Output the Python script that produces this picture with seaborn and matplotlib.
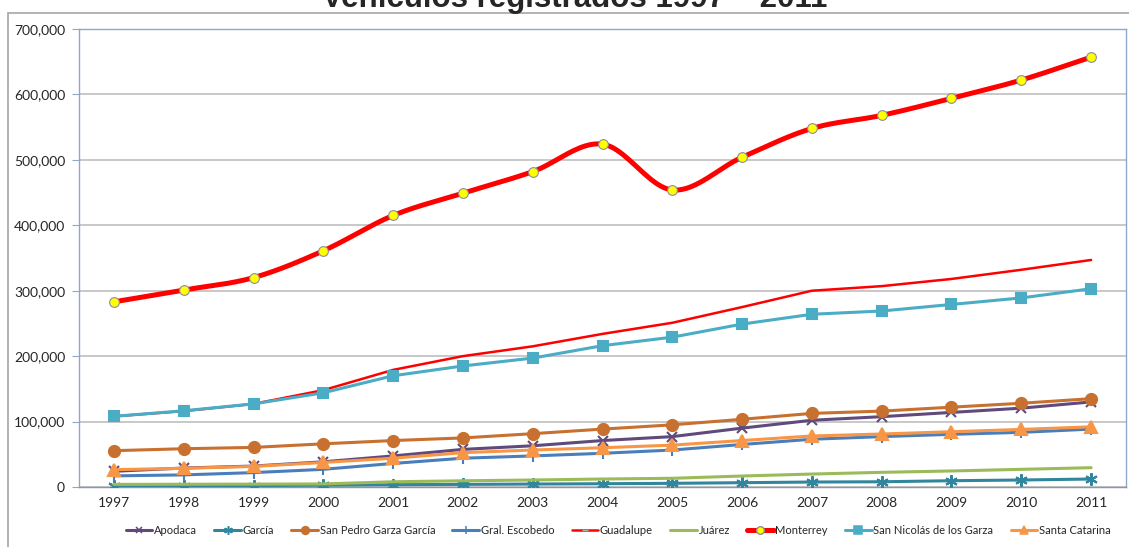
import numpy as np
import pandas as pd
import seaborn as sns
import matplotlib.pyplot as plt
from matplotlib.lines import Line2D
from matplotlib.patches import Rectangle
from matplotlib.ticker import FuncFormatter, MultipleLocator

years = ['1997', '1998', '1999', '2000', '2001', '2002', '2003', '2004',
         '2005', '2006', '2007', '2008', '2009', '2010', '2011']

apodaca = [24000, 29000, 32000, 38500, 47500, 57500, 63000, 71000, 77000,
           90000, 102000, 107500, 114000, 120500, 130000]
garcia = [1500, 1800, 2200, 2800, 3500, 4000, 4500, 5000, 5600, 6600, 7600,
          8000, 9600, 10700, 12200]
san_pedro = [55500, 58500, 60500, 66000, 71000, 75000, 81500, 88500, 95000,
             103500, 112500, 116000, 122000, 128000, 135000]
escobedo = [17000, 18500, 22000, 27000, 36000, 44000, 47500, 51500, 56500,
            65000, 73000, 77000, 80500, 83500, 88500]
guadalupe = [108000, 116000, 127000, 148000, 179000, 200000, 215000, 234000,
             251000, 275000, 300000, 307000, 318000, 332000, 347000]
juarez = [4000, 4200, 4400, 4700, 8000, 9500, 10700, 12200, 13300, 16800,
          19800, 22400, 24500, 27000, 29500]
monterrey = [283000, 301000, 320000, 361000, 415000, 449000, 482000, 524000,
             454000, 504000, 548000, 568000, 594000, 622000, 657000]
san_nicolas = [108000, 116500, 127000, 144000, 170000, 185000, 197000, 216000,
               229000, 249000, 264000, 269000, 279000, 289000, 303000]
santa_catarina = [26500, 28500, 31500, 37500, 44000, 52500, 56500, 60000,
                  64000, 71000, 78000, 81000, 84500, 88000, 92000]

sns.set_style('white')
plt.rcParams['font.family'] = ['Lato', 'DejaVu Sans']

fig = plt.figure(figsize=(11.29, 5.47), dpi=100)
ax = fig.add_axes([79 / 1129, 1 - 487 / 547, (1126 - 79) / 1129, (487 - 29) / 547])

xs = np.arange(len(years))
GRID = '#BFBFBF'
FRAME = '#8EA9C8'


def smooth(x, y, n=24):
    # catmull-rom style smoothing, like excel's "smoothed line"
    x = np.asarray(x, float)
    y = np.asarray(y, float)
    px = np.concatenate([[2 * x[0] - x[1]], x, [2 * x[-1] - x[-2]]])
    py = np.concatenate([[2 * y[0] - y[1]], y, [2 * y[-1] - y[-2]]])
    ox, oy = [], []
    t = np.linspace(0, 1, n, endpoint=False)
    for i in range(1, len(px) - 2):
        for arr, out in ((px, ox), (py, oy)):
            p0, p1, p2, p3 = arr[i - 1], arr[i], arr[i + 1], arr[i + 2]
            out.extend(0.5 * ((2 * p1) + (-p0 + p2) * t
                              + (2 * p0 - 5 * p1 + 4 * p2 - p3) * t ** 2
                              + (-p0 + 3 * p1 - 3 * p2 + p3) * t ** 3))
    ox.append(x[-1])
    oy.append(y[-1])
    return np.array(ox), np.array(oy)


series = [
    # name, values, color, marker, marker size, line width
    ('Apodaca', apodaca, '#604A7B', 'x', 7, 2.2),
    ('García', garcia, '#31859C', (6, 2, 0), 9, 2.2),
    ('San Pedro Garza García', san_pedro, '#C8702F', 'o', 8, 2.2),
    ('Gral. Escobedo', escobedo, '#4A7EBB', '|', 8, 2.2),
    ('Guadalupe', guadalupe, '#FF0000', None, 0, 1.8),
    ('Juárez', juarez, '#9BBB59', None, 0, 2.2),
    ('Monterrey', monterrey, '#FF0000', 'o', 7, 3.6),
    ('San Nicolás de los Garza', san_nicolas, '#4BACC6', 's', 7.5, 2.2),
    ('Santa Catarina', santa_catarina, '#F79646', '^', 8, 2.2),
]

handles = []
for z, (name, vals, col, mk, ms, lw) in enumerate(series):
    if name == 'Monterrey':
        sx, sy = smooth(xs, vals)
        sns.lineplot(x=sx, y=sy, ax=ax, color=col, linewidth=lw, sort=False,
                     estimator=None, zorder=3 + z)
        ax.plot(xs, vals, linestyle='none', marker='o', markersize=ms,
                markerfacecolor='#FFFF00', markeredgecolor='#8C8C9C',
                markeredgewidth=0.8, zorder=3 + z)
        handles.append(Line2D([], [], color=col, linewidth=lw, marker='o',
                              markersize=5.5, markerfacecolor='#FFFF00',
                              markeredgecolor='#8C8C9C', label=name))
        continue
    df = pd.DataFrame({'x': xs, 'y': vals})
    kw = {}
    if mk is not None:
        kw = dict(marker=mk, markersize=ms, markerfacecolor=col,
                  markeredgecolor=col, markeredgewidth=1.5)
    sns.lineplot(data=df, x='x', y='y', ax=ax, color=col, linewidth=lw,
                 zorder=3 + z, **kw)
    hk = dict(kw)
    if hk:
        hk['markersize'] = ms * 0.7
        hk['markeredgewidth'] = 1.1
    if name == 'Guadalupe':
        hk = dict(marker='_', markersize=5, markeredgecolor='#B0B0B0')
    handles.append(Line2D([], [], color=col, linewidth=lw, label=name, **hk))

ax.set_xlim(-0.5, len(years) - 0.5)
ax.set_ylim(0, 700000)
ax.set_xticks(xs)
ax.set_xticklabels(years, fontsize=10)
ax.set_xticks(np.arange(-0.5, len(years), 1), minor=True)
ax.tick_params(axis='x', which='major', length=0, pad=7)
ax.tick_params(axis='x', which='minor', length=5, color=FRAME, direction='out')
ax.yaxis.set_major_locator(MultipleLocator(100000))
ax.yaxis.set_major_formatter(FuncFormatter(lambda v, p: f'{int(v):,}'))
ax.tick_params(axis='y', labelsize=10, length=5, color=FRAME, direction='out',
               left=True, pad=5)
ax.grid(axis='y', color=GRID, linewidth=1.2)
ax.set_axisbelow(True)
for sp in ax.spines.values():
    sp.set_visible(True)
    sp.set_color(FRAME)
    sp.set_linewidth(1.0)
ax.spines['bottom'].set_color('#8C96A8')
ax.set_xlabel('')
ax.set_ylabel('')

ax.legend(handles=handles, loc='center', bbox_to_anchor=(0.515, -0.095),
          ncol=len(series), frameon=False, fontsize=8, handlelength=2.4,
          handletextpad=0.15, columnspacing=1.55, borderaxespad=0)

fig.text(0.509, 1 - 7 / 547, 'Vehículos registrados 1997 – 2011',
         ha='center', va='baseline', fontsize=22.5, fontweight='bold',
         family=['Liberation Sans', 'DejaVu Sans'])
fig.patches.append(Rectangle((8 / 1129, -0.05), 1.2, 1 - 13 / 547 + 0.05,
                             transform=fig.transFigure, fill=False,
                             edgecolor='#A6A6A6', linewidth=1.2))

fig.savefig('out.png', dpi=100)
